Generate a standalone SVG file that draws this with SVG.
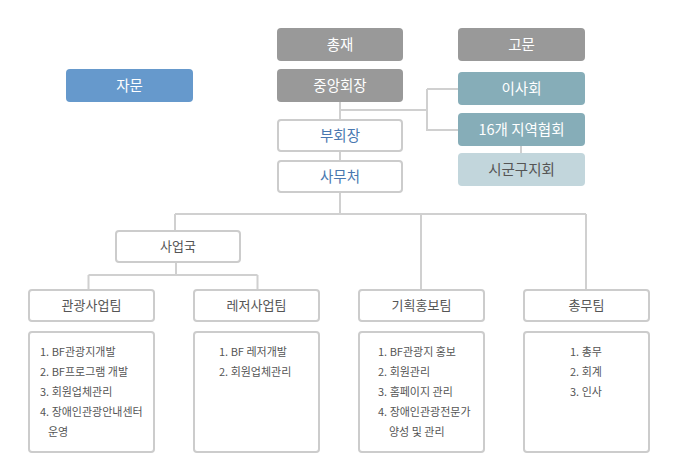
<svg xmlns="http://www.w3.org/2000/svg" width="690" height="463" viewBox="0 0 690 463">
<style>
text{font-family:"Noto Sans CJK KR","Noto Sans",sans-serif}
.gray{fill:#999999}
.blue{fill:#6699cc}
.teal{fill:#86adb8}
.light{fill:#c2d6dc}
.outline{fill:#ffffff;stroke:#cccccc;stroke-width:2}
.t-top{font-size:14.5px;text-anchor:middle;fill:#ffffff}
.t-dark{font-size:14.5px;text-anchor:middle;fill:#555555}
.t-blue{font-size:14.5px;text-anchor:middle;fill:#4a78b0}
.t-head{font-size:13px;text-anchor:middle;fill:#555555}
.t-list{font-size:11px;fill:#555555}
.conn{fill:none;stroke:#d0d0d0;stroke-width:2}
</style>
<g id="connectors" class="conn">
<path d="M340 101V214"/>
<path d="M340 110H427"/>
<path d="M427 89H458M427 89V130H458"/>
<path d="M521 146V153"/>
<path d="M175 214H586M175 214V231"/>
<path d="M421 214V290M586 214V290"/>
<path d="M176 262V275M88.5 275H257.5M88.5 275V290M257.5 275V290"/>
</g>
<g id="n-chongjae"><rect class="gray" x="277" y="28" width="126" height="33" rx="4"/><text class="t-top" x="340" y="49.5">총재</text></g>
<g id="n-gomun"><rect class="gray" x="458" y="28" width="127" height="33" rx="4"/><text class="t-top" x="521.5" y="49.5">고문</text></g>
<g id="n-jamun"><rect class="blue" x="66" y="69" width="127" height="33" rx="4"/><text class="t-top" x="129.5" y="90.5">자문</text></g>
<g id="n-president"><rect class="gray" x="277" y="69" width="126" height="33" rx="4"/><text class="t-top" x="340" y="90.5">중앙회장</text></g>
<g id="n-board"><rect class="teal" x="458" y="72" width="127" height="33" rx="4"/><text class="t-top" x="521.5" y="93.5">이사회</text></g>
<g id="n-regional"><rect class="teal" x="458" y="113" width="127" height="33" rx="4"/><text class="t-top" x="521.5" y="134.5">16개 지역협회</text></g>
<g id="n-branch"><rect class="light" x="458" y="153" width="127" height="33" rx="4"/><text class="t-dark" x="521.5" y="174.5">시군구지회</text></g>
<g id="n-vice"><rect class="outline" x="278" y="120" width="124" height="31" rx="3"/><text class="t-blue" x="340" y="140.5">부회장</text></g>
<g id="n-office"><rect class="outline" x="278" y="161" width="124" height="31" rx="3"/><text class="t-blue" x="340" y="181.5">사무처</text></g>
<g id="n-bureau"><rect class="outline" x="116" y="231" width="124" height="31" rx="3"/><text class="t-head" x="178" y="251">사업국</text></g>
<g id="n-tour"><rect class="outline" x="29" y="290" width="125" height="31" rx="3"/><text class="t-head" x="91.5" y="310">관광사업팀</text></g>
<g id="n-leisure"><rect class="outline" x="194" y="290" width="125" height="31" rx="3"/><text class="t-head" x="256.5" y="310">레저사업팀</text></g>
<g id="n-planning"><rect class="outline" x="359" y="290" width="125" height="31" rx="3"/><text class="t-head" x="421.5" y="310">기획홍보팀</text></g>
<g id="n-general"><rect class="outline" x="524" y="290" width="125" height="31" rx="3"/><text class="t-head" x="586.5" y="310">총무팀</text></g>
<g id="n-tour-list"><rect class="outline" x="29" y="332" width="125" height="120" rx="3"/>
<text class="t-list" x="40" y="355.5">1. BF관광지개발</text>
<text class="t-list" x="40" y="375.5">2. BF프로그램 개발</text>
<text class="t-list" x="40" y="395.5">3. 회원업체관리</text>
<text class="t-list" x="40" y="415.5">4. 장애인관광안내센터</text>
<text class="t-list" x="48" y="435.5">운영</text></g>
<g id="n-leisure-list"><rect class="outline" x="194" y="332" width="125" height="120" rx="3"/>
<text class="t-list" x="219" y="355.5">1. BF 레저개발</text>
<text class="t-list" x="219" y="375.5">2. 회원업체관리</text></g>
<g id="n-planning-list"><rect class="outline" x="359" y="332" width="125" height="120" rx="3"/>
<text class="t-list" x="378" y="355.5">1. BF관광지 홍보</text>
<text class="t-list" x="378" y="375.5">2. 회원관리</text>
<text class="t-list" x="378" y="395.5">3. 홈페이지 관리</text>
<text class="t-list" x="378" y="415.5">4. 장애인관광전문가</text>
<text class="t-list" x="389" y="435.5">양성 및 관리</text></g>
<g id="n-general-list"><rect class="outline" x="524" y="332" width="125" height="120" rx="3"/>
<text class="t-list" x="570" y="355.5">1. 총무</text>
<text class="t-list" x="570" y="375.5">2. 회계</text>
<text class="t-list" x="570" y="395.5">3. 인사</text></g>
</svg>
